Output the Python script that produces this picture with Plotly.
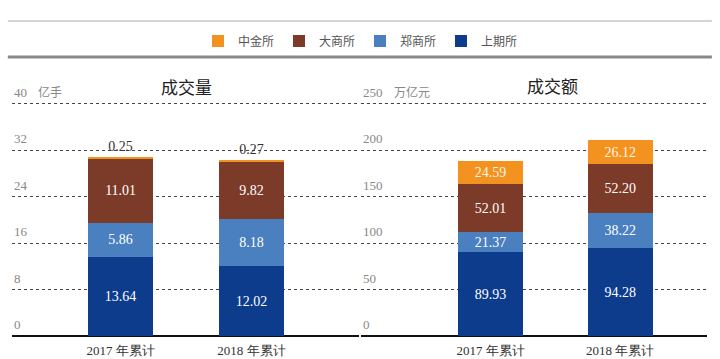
import plotly.graph_objects as go

categories = ["2017 年累计", "2018 年累计"]
series_names = ["上期所", "郑商所", "大商所", "中金所"]
volume = {
    "上期所": [13.64, 12.02],
    "郑商所": [5.86, 8.18],
    "大商所": [11.01, 9.82],
    "中金所": [0.25, 0.27],
}
turnover = {
    "上期所": [89.93, 94.28],
    "郑商所": [21.37, 38.22],
    "大商所": [52.01, 52.20],
    "中金所": [24.59, 26.12],
}
vol_ticks = [0, 8, 16, 24, 32, 40]
amt_ticks = [0, 50, 100, 150, 200, 250]
colors = {"上期所": "#0E3C8C", "郑商所": "#4A7FC0", "大商所": "#7C3A28", "中金所": "#F3921F"}

serif = "Liberation Serif"
cjk = "Noto Sans CJK SC"

fig = go.Figure()
for name in series_names:
    fig.add_trace(go.Bar(
        x=categories, y=volume[name], name=name, marker_color=colors[name],
        marker_line_width=0, width=0.5,
        text=[f"{v:.2f}" for v in volume[name]],
        textposition="outside" if name == "中金所" else "inside",
        insidetextanchor="middle", textangle=0, constraintext="none",
        insidetextfont=dict(family=serif, size=14, color="white"),
        outsidetextfont=dict(family=serif, size=14, color="#333333"),
        cliponaxis=False, xaxis="x", yaxis="y", showlegend=False,
    ))
for name in series_names:
    fig.add_trace(go.Bar(
        x=categories, y=turnover[name], name=name, marker_color=colors[name],
        marker_line_width=0, width=0.5,
        text=[f"{v:.2f}" for v in turnover[name]],
        textposition="inside", insidetextanchor="middle", textangle=0, constraintext="none",
        insidetextfont=dict(family=serif, size=14, color="#FFF6E6" if name == "中金所" else "white"),
        cliponaxis=False, xaxis="x2", yaxis="y2", showlegend=True,
    ))

GRID = dict(color="#444444", width=1, dash="3px,3px")
axis_common = dict(
    showgrid=True, gridcolor=GRID["color"], griddash=GRID["dash"], gridwidth=1,
    zeroline=True, zerolinecolor="#111111", zerolinewidth=1.5,
    showticklabels=False, ticks="", automargin=False,
)
xaxis_common = dict(
    type="category", showgrid=False, showline=False, ticks="", automargin=False,
    tickfont=dict(family=serif, size=13, color="#333333"), ticklabelstandoff=5,
)

annotations = []
for t in vol_ticks:
    annotations.append(dict(text=str(t), xref="x domain", yref="y", x=0, y=t, xanchor="left",
                            yanchor="bottom", yshift=2, showarrow=False,
                            font=dict(family=serif, size=13, color="#888888")))
for t in amt_ticks:
    annotations.append(dict(text=str(t), xref="x2 domain", yref="y2", x=0, y=t, xanchor="left",
                            yanchor="bottom", yshift=2, showarrow=False,
                            font=dict(family=serif, size=13, color="#888888")))
annotations += [
    dict(text="亿手", xref="x domain", yref="y", x=(36 - 12) / 347, y=vol_ticks[-1], yshift=12,
         xanchor="left", yanchor="middle", showarrow=False,
         font=dict(family=cjk, size=12, color="#888888")),
    dict(text="万亿元", xref="x2 domain", yref="y2", x=(392 - 361) / 346, y=amt_ticks[-1], yshift=12,
         xanchor="left", yanchor="middle", showarrow=False,
         font=dict(family=cjk, size=12, color="#888888")),
    dict(text="成交量", xref="x domain", yref="y", x=(187 - 12) / 347, y=vol_ticks[-1], yshift=17,
         xanchor="center", yanchor="middle", showarrow=False,
         font=dict(family=cjk, size=17, color="#222222")),
    dict(text="成交额", xref="x2 domain", yref="y2", x=(553 - 361) / 346, y=amt_ticks[-1], yshift=18,
         xanchor="center", yanchor="middle", showarrow=False,
         font=dict(family=cjk, size=17, color="#222222")),
]

H = 240.0
FRAC = 0.96875  # fraction of plot height at which the top tick sits
shapes = [
    dict(type="line", xref="paper", yref="paper", x0=-0.006, x1=1.007,
         y0=(336 - 21) / H, y1=(336 - 21) / H, line=dict(color="#AAAAAA", width=1)),
    dict(type="line", xref="paper", yref="paper", x0=-0.006, x1=1.007,
         y0=(336 - 57) / H, y1=(336 - 57) / H, line=dict(color="#888888", width=3)),
    dict(type="line", xref="x domain", yref="y", x0=0, x1=1, y0=vol_ticks[-1], y1=vol_ticks[-1],
         line=dict(color="#444444", width=1.2, dash="3px,3px"), layer="above"),
    dict(type="line", xref="x2 domain", yref="y2", x0=0, x1=1, y0=amt_ticks[-1], y1=amt_ticks[-1],
         line=dict(color="#444444", width=1.2, dash="3px,3px"), layer="above"),
]

fig.update_layout(
    width=720, height=359,
    margin=dict(l=12, r=13, t=96, b=23),
    paper_bgcolor="white", plot_bgcolor="white",
    barmode="stack",
    xaxis=dict(domain=[0, 0.499], range=[-0.83, 1.82], **xaxis_common),
    xaxis2=dict(domain=[0.502, 1], range=[-1.0, 1.67], anchor="y2", **xaxis_common),
    yaxis=dict(range=[0, vol_ticks[-1] / FRAC], tickvals=vol_ticks, anchor="x", **axis_common),
    yaxis2=dict(range=[0, amt_ticks[-1] / FRAC], tickvals=amt_ticks, anchor="x2", **axis_common),
    legend=dict(orientation="h", x=0.5007, y=(336 - 41) / H, yref="paper",
                xanchor="center", yanchor="middle",
                traceorder="reversed", font=dict(family=cjk, size=12, color="#555555"),
                entrywidth=36, itemwidth=30, bgcolor="rgba(0,0,0,0)"),
    showlegend=True,
    annotations=annotations,
    shapes=shapes,
)

fig.write_html("out.html")
